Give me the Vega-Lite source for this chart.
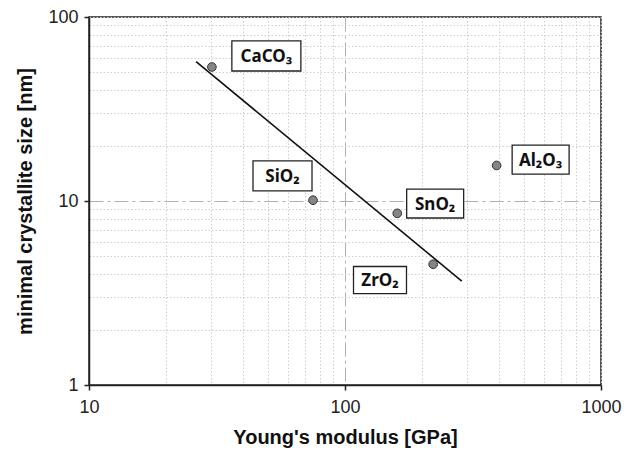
{
  "$schema": "https://vega.github.io/schema/vega-lite/v6.json",
  "autosize": {"type": "none"},
  "padding": {"left": 89, "top": 17, "right": 38, "bottom": 73},
  "width": 512,
  "height": 368,
  "background": "white",
  "config": {
    "view": {"stroke": "#222", "strokeWidth": 1.5},
    "font": "Liberation Sans"
  },
  "datasets": {
    "pts": [
      {"material": "CaCO₃", "E": 30.2, "d": 53.5, "lx": 49.3, "ly": 61.4},
      {"material": "SiO₂", "E": 75, "d": 10.1, "lx": 57, "ly": 13.7},
      {"material": "SnO₂", "E": 160, "d": 8.57, "lx": 225, "ly": 9.69},
      {"material": "ZrO₂", "E": 221, "d": 4.53, "lx": 137, "ly": 3.72},
      {"material": "Al₂O₃", "E": 391, "d": 15.6, "lx": 581, "ly": 16.8}
    ],
    "fit": [
      {"E": 26.2, "d": 57.2},
      {"E": 285.8, "d": 3.67}
    ]
  },
  "layer": [
    {
      "data": {"name": "fit"},
      "mark": {"type": "line", "color": "#111", "strokeWidth": 1.6},
      "encoding": {
        "x": {
          "field": "E", "type": "quantitative",
          "scale": {"type": "log", "domain": [10, 1000], "nice": false},
          "axis": {
            "title": "Young's modulus [GPa]",
            "titleFontSize": 20, "titleFontWeight": "bold", "titleColor": "#111",
            "titlePadding": 11,
            "values": [10, 20, 30, 40, 50, 60, 70, 80, 90, 100, 200, 300, 400, 500, 600, 700, 800, 900, 1000],
            "labelExpr": "(datum.value == 10 || datum.value == 100 || datum.value == 1000) ? format(datum.value, 'd') : ''",
            "labelFontSize": 18, "labelColor": "#222", "labelPadding": 8,
            "labelFlush": false, "labelOverlap": false,
            "domainColor": "#222", "domainWidth": 1.5,
            "tickColor": "#222", "tickSize": 5, "tickWidth": 1.5,
            "tickOpacity": {"condition": {"test": "datum.value == 10 || datum.value == 100 || datum.value == 1000", "value": 1}, "value": 0},
            "grid": true,
            "gridColor": {"condition": {"test": "datum.value == 100", "value": "#b0b0b0"}, "value": "#cfcfcf"},
            "gridDash": {"condition": {"test": "datum.value == 100", "value": [14, 4, 3, 4]}, "value": [1.5, 2]},
            "gridWidth": 1
          }
        },
        "y": {
          "field": "d", "type": "quantitative",
          "scale": {"type": "log", "domain": [1, 100], "nice": false},
          "axis": {
            "title": "minimal crystallite size [nm]",
            "titleFontSize": 20, "titleFontWeight": "bold", "titleColor": "#111",
            "titlePadding": 12,
            "values": [1, 2, 3, 4, 5, 6, 7, 8, 9, 10, 20, 30, 40, 50, 60, 70, 80, 90, 100],
            "labelExpr": "(datum.value == 1 || datum.value == 10 || datum.value == 100) ? format(datum.value, 'd') : ''",
            "labelFontSize": 18, "labelColor": "#222", "labelPadding": 6,
            "labelFlush": false, "labelOverlap": false,
            "domainColor": "#222", "domainWidth": 1.5,
            "tickColor": "#222", "tickSize": 5, "tickWidth": 1.5,
            "tickOpacity": {"condition": {"test": "datum.value == 1 || datum.value == 10 || datum.value == 100", "value": 1}, "value": 0},
            "grid": true,
            "gridColor": {"condition": {"test": "datum.value == 10", "value": "#b0b0b0"}, "value": "#cfcfcf"},
            "gridDash": {"condition": {"test": "datum.value == 10", "value": [14, 4, 3, 4]}, "value": [1.5, 2]},
            "gridWidth": 1
          }
        }
      }
    },
    {
      "data": {"name": "pts"},
      "mark": {"type": "point", "filled": true, "size": 75, "fill": "#858585", "stroke": "#333", "strokeWidth": 1, "opacity": 1},
      "encoding": {
        "x": {"field": "E", "type": "quantitative"},
        "y": {"field": "d", "type": "quantitative"}
      }
    },
    {
      "data": {"name": "pts"},
      "mark": {"type": "point", "filled": false, "size": 4900, "fill": "white", "fillOpacity": 1, "stroke": "#222", "strokeWidth": 1.3, "opacity": 1},
      "encoding": {
        "x": {"field": "lx", "type": "quantitative"},
        "y": {"field": "ly", "type": "quantitative"},
        "shape": {
          "field": "material", "type": "nominal", "legend": null,
          "scale": {
            "domain": ["CaCO₃", "SiO₂", "SnO₂", "ZrO₂", "Al₂O₃"],
            "range": [
              "M-0.986,-0.429H0.986V0.429H-0.986Z",
              "M-0.843,-0.429H0.843V0.429H-0.843Z",
              "M-0.814,-0.414H0.814V0.414H-0.814Z",
              "M-0.757,-0.386H0.757V0.386H-0.757Z",
              "M-0.814,-0.414H0.814V0.414H-0.814Z"
            ]
          }
        }
      }
    },
    {
      "data": {"name": "pts"},
      "mark": {"type": "text", "font": "Noto Sans", "fontWeight": "bold", "fontSize": 17, "color": "#111", "align": "center", "baseline": "middle", "dy": 1},
      "encoding": {
        "x": {"field": "lx", "type": "quantitative"},
        "y": {"field": "ly", "type": "quantitative"},
        "text": {"field": "material"}
      }
    }
  ]
}
